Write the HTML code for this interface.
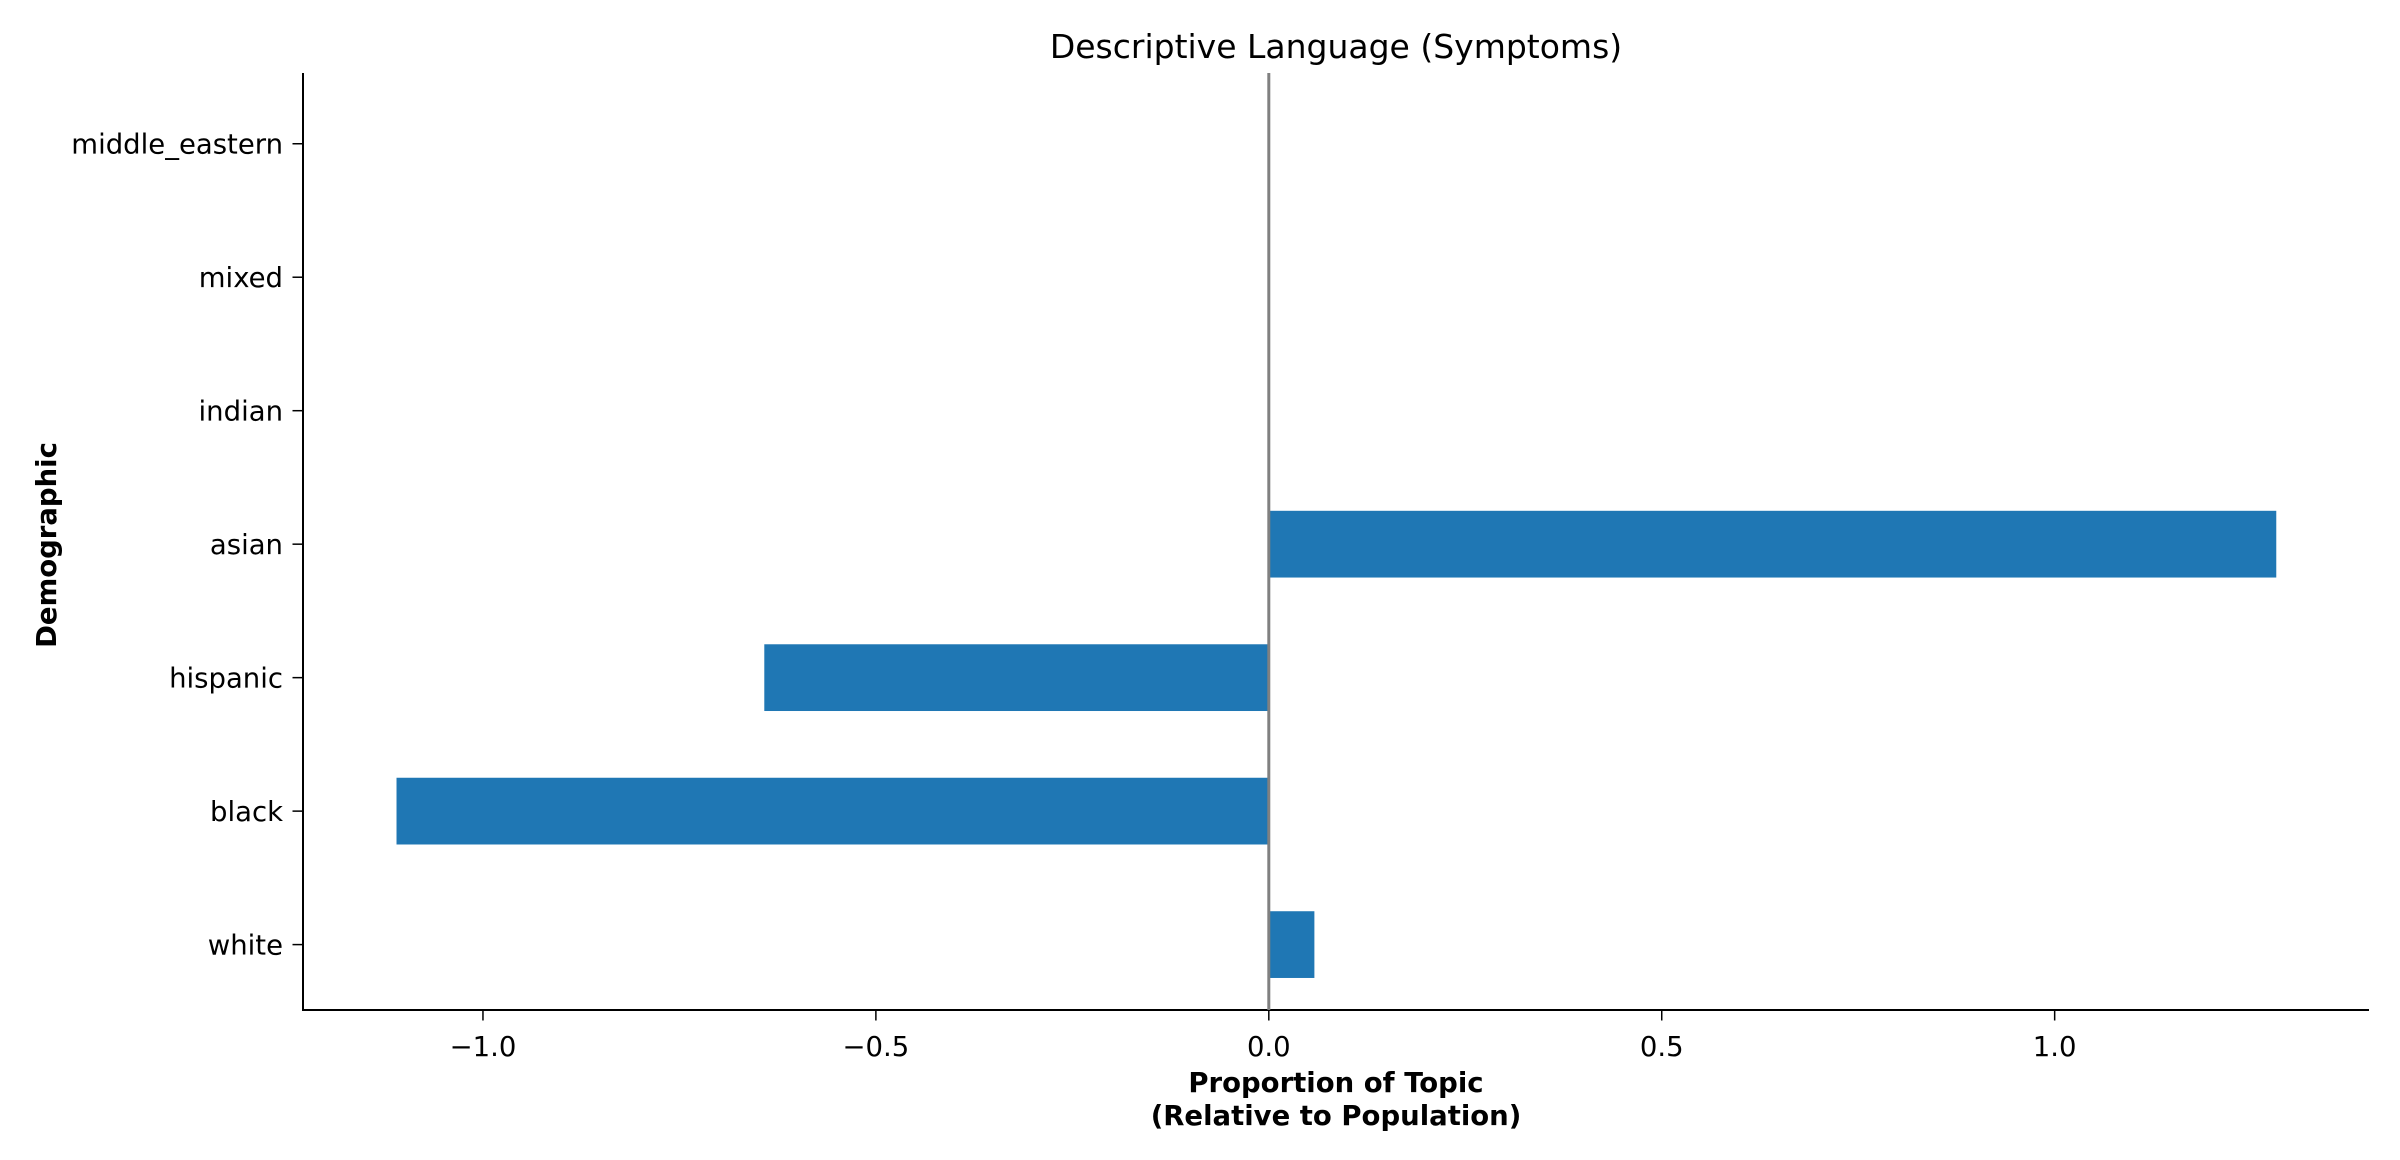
<!DOCTYPE html>
<html><head><meta charset="utf-8"><style>
html,body{margin:0;padding:0;background:#fff;}
svg{display:block;font-family:"DejaVu Sans","Liberation Sans",sans-serif;}
</style></head><body>
<svg id="chart" width="2400" height="1160" viewBox="0 0 2400 1160">
<text x="1336" y="58" text-anchor="middle" font-size="33">Descriptive Language (Symptoms)</text>
<g id="bars"></g>
<g id="xaxis"></g>
<g id="yaxis"></g>
<text x="1336" y="1092" text-anchor="middle" font-size="27.5" font-weight="bold"><tspan x="1336">Proportion of Topic</tspan><tspan x="1336" dy="33">(Relative to Population)</tspan></text>
<text transform="translate(56,545) rotate(-90)" text-anchor="middle" font-size="27.5" font-weight="bold">Demographic</text>
</svg>
<script>
const categories = ["white","black","hispanic","asian","indian","mixed","middle_eastern"];
const values = [0.058,-1.11,-0.642,1.282,0,0,0];
const xTicks = [-1.0,-0.5,0.0,0.5,1.0];
const xTickLabels = ["\u22121.0","\u22120.5","0.0","0.5","1.0"];

const NS="http://www.w3.org/2000/svg";
const L=303,R=2369,T=73,B=1010;
const xMin=-1.229,xMax=1.4;
const yMin=-0.49,yMax=6.53;
const sx=v=>L+(v-xMin)/(xMax-xMin)*(R-L);
const sy=i=>B-(i-yMin)/(yMax-yMin)*(B-T);
function mk(tag,attrs,parent){const e=document.createElementNS(NS,tag);for(const k in attrs)e.setAttribute(k,attrs[k]);parent.appendChild(e);return e;}
const bars=document.getElementById('bars'),xa=document.getElementById('xaxis'),ya=document.getElementById('yaxis');
const svg=document.getElementById('chart');
const bh=(sy(0)-sy(1))*0.5;
values.forEach((v,i)=>{
  const x0=sx(Math.min(0,v)),x1=sx(Math.max(0,v));
  const r=mk('rect',{x:x0,y:sy(i)-bh/2,width:Math.max(0,x1-x0),height:bh,fill:'#1f77b4'},bars);
  
  
});
const zl=mk('line',{x1:sx(0),x2:sx(0),y1:T,y2:B,stroke:'#808080','stroke-width':3},svg);


const ls=mk('line',{x1:L,x2:L,y1:T,y2:B+1,stroke:'#000','stroke-width':2},ya);


const bs=mk('line',{x1:L-1,x2:R,y1:B,y2:B,stroke:'#000','stroke-width':2},xa);


xTicks.forEach((t,i)=>{
  const x=sx(t);
  const tk=mk('line',{x1:x,x2:x,y1:B,y2:B+10.5,stroke:'#000','stroke-width':1.5},xa);
  
  
  const tx=mk('text',{x:x,y:B+46,'text-anchor':'middle','font-size':27.5},xa);
  tx.textContent=xTickLabels[i];
  
  
});
categories.forEach((c,i)=>{
  const y=sy(i);
  const tk=mk('line',{x1:L-10.5,x2:L,y1:y,y2:y,stroke:'#000','stroke-width':1.5},ya);
  
  
  const tx=mk('text',{x:L-20,y:y+10,'text-anchor':'end','font-size':27.5},ya);
  tx.textContent=c;
  
  
});
</script>
</body></html>
